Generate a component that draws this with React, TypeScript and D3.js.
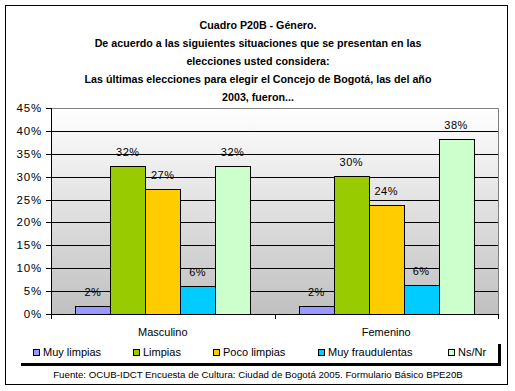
import React from "react";
import * as d3 from "d3";

const categories = ["Masculino", "Femenino"];
const seriesNames = ["Muy limpias", "Limpias", "Poco limpias", "Muy fraudulentas", "Ns/Nr"];
const seriesColors = ["#9999FF", "#99CC00", "#FFCC00", "#00CCFF", "#CCFFCC"];
// percentage per series, one entry per category
const muyLimpias = [1.8, 1.7];
const limpias = [32.3, 30.2];
const pocoLimpias = [27.3, 23.9];
const muyFraudulentas = [6.2, 6.4];
const nsNr = [32.3, 38.3];
const valueLabels = [
  ["2%", "32%", "27%", "6%", "32%"],
  ["2%", "30%", "24%", "6%", "38%"],
];
const yTicks = [0, 5, 10, 15, 20, 25, 30, 35, 40, 45];
const titleLines = [
  "Cuadro P20B - Género.",
  "De acuerdo a las siguientes situaciones que se presentan en las",
  "elecciones usted considera:",
  "Las últimas elecciones para elegir el Concejo de Bogotá, las del año",
  "2003, fueron...",
];
const sourceText =
  "Fuente: OCUB-IDCT Encuesta de Cultura: Ciudad de Bogotá 2005. Formulario Básico BPE20B";

const W = 515;
const H = 391;
const plot = { left: 51, right: 498, top: 108, bottom: 314 };
const font = "Arial, 'Liberation Sans', sans-serif";

const App = () => {
  const allSeries = [muyLimpias, limpias, pocoLimpias, muyFraudulentas, nsNr];

  const x0 = d3.scaleBand().domain(categories).range([plot.left, plot.right]);
  const x1 = d3
    .scaleBand()
    .domain(seriesNames)
    .range([0, x0.bandwidth()])
    .paddingOuter(0.7);
  const y = d3.scaleLinear().domain([0, 45]).range([plot.bottom, plot.top]);

  // legend item x positions (marker left edge)
  const legendX = [33, 133, 213, 318, 448];

  return (
    <svg
      width={W}
      height={H}
      style={{ position: "absolute", left: 0, top: 0, background: "#fff" }}
      fontFamily={font}
    >
      <defs>
        <linearGradient id="plotbg" x1="0" y1="0" x2="0" y2="1">
          <stop offset="0%" stopColor="#ffffff" />
          <stop offset="100%" stopColor="#c0c0c0" />
        </linearGradient>
      </defs>
      <rect x={5.5} y={5.5} width={502} height={379} fill="#fff" stroke="#000" />

      {titleLines.map((t, i) => (
        <text
          key={i}
          x={258}
          y={29 + i * 18}
          textAnchor="middle"
          fontSize={10.7}
          fontWeight="bold"
        >
          {t}
        </text>
      ))}

      {/* plot area */}
      <rect
        x={plot.left}
        y={plot.top}
        width={plot.right - plot.left}
        height={plot.bottom - plot.top}
        fill="url(#plotbg)"
      />
      {yTicks
        .filter((t) => t > 0 && t < 45)
        .map((t) => (
          <line
            key={t}
            x1={plot.left}
            x2={plot.right}
            y1={Math.round(y(t)) + 0.5}
            y2={Math.round(y(t)) + 0.5}
            stroke="#000"
          />
        ))}
      <path
        d={`M${plot.left},${plot.top + 0.5}H${plot.right + 0.5}V${plot.bottom}`}
        fill="none"
        stroke="#808080"
      />

      {/* bars */}
      {categories.map((c, ci) =>
        seriesNames.map((s, si) => {
          const v = allSeries[si][ci];
          const bx = (x0(c) as number) + (x1(s) as number);
          const top = y(v);
          return (
            <g key={c + s}>
              <rect
                x={Math.round(bx) + 0.5}
                y={Math.round(top) + 0.5}
                width={Math.round(x1.bandwidth())}
                height={Math.round(plot.bottom - top)}
                fill={seriesColors[si]}
                stroke="#000"
              />
              <text
                x={bx + x1.bandwidth() / 2}
                y={top - 10}
                textAnchor="middle"
                fontSize={11}
                letterSpacing={0.5}
              >
                {valueLabels[ci][si]}
              </text>
            </g>
          );
        })
      )}

      {/* y axis */}
      <line x1={plot.left + 0.5} x2={plot.left + 0.5} y1={plot.top} y2={plot.bottom} stroke="#000" />
      {yTicks.map((t) => (
        <g key={t}>
          <line
            x1={plot.left - 5}
            x2={plot.left}
            y1={Math.round(y(t)) + 0.5}
            y2={Math.round(y(t)) + 0.5}
            stroke="#000"
          />
          <text x={42} y={y(t) + 4} textAnchor="end" fontSize={11.5} letterSpacing={0.8}>
            {t}%
          </text>
        </g>
      ))}

      {/* x axis */}
      <line x1={plot.left} x2={plot.right + 1} y1={plot.bottom + 0.5} y2={plot.bottom + 0.5} stroke="#000" />
      {[...categories.map((c) => x0(c) as number), plot.right].map((px, i) => (
        <line
          key={i}
          x1={Math.round(px) + 0.5}
          x2={Math.round(px) + 0.5}
          y1={plot.bottom}
          y2={plot.bottom + 5}
          stroke="#000"
        />
      ))}
      {categories.map((c) => (
        <text
          key={c}
          x={(x0(c) as number) + x0.bandwidth() / 2}
          y={336}
          textAnchor="middle"
          fontSize={11}
        >
          {c}
        </text>
      ))}

      {/* legend */}
      <rect x={21} y={344} width={480} height={22} fill="#000" />
      <rect x={18} y={341} width={480} height={22} fill="#fff" />
      {seriesNames.map((s, i) => (
        <g key={s}>
          <rect
            x={legendX[i] + 0.5}
            y={349.5}
            width={6}
            height={6}
            fill={seriesColors[i]}
            stroke="#000"
          />
          <text x={legendX[i] + 10} y={356} fontSize={11}>
            {s}
          </text>
        </g>
      ))}

      <text x={258} y={378} textAnchor="middle" fontSize={9.7}>
        {sourceText}
      </text>
    </svg>
  );
};

export default App;
